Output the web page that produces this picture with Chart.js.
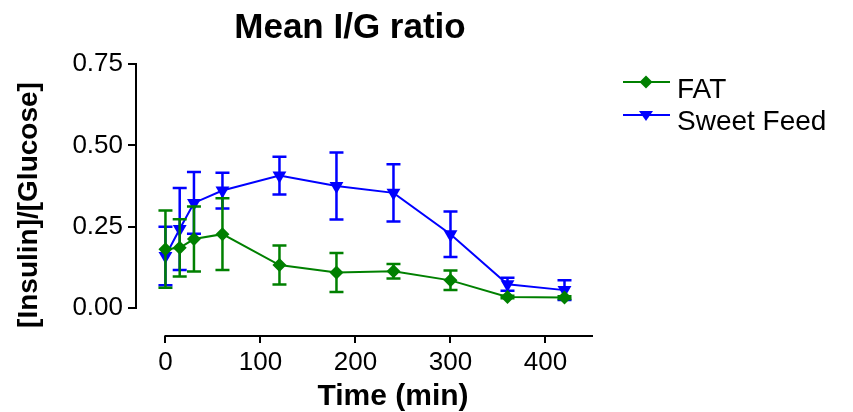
<!DOCTYPE html>
<html>
<head>
<meta charset="utf-8">
<script src="https://cdn.jsdelivr.net/npm/chart.js@4/dist/chart.umd.min.js"></script>
<style>
  html, body { margin: 0; padding: 0; background: #fff; }
  #wrap { width: 853px; height: 412px; }
</style>
</head>
<body>
<div id="wrap"><canvas id="c" width="853" height="412"></canvas></div>
<script>
const titleText = 'Mean I/G ratio';
const xTitle = 'Time (min)';
const yTitle = '[Insulin]/[Glucose]';
const seriesNames = ['FAT', 'Sweet Feed'];
const timePoints = [0, 15, 30, 60, 120, 180, 240, 300, 360, 420];
const fatMean = [0.181, 0.185, 0.212, 0.227, 0.132, 0.109, 0.113, 0.085, 0.034, 0.032];
const fatSem  = [0.119, 0.088, 0.100, 0.110, 0.060, 0.060, 0.022, 0.030, 0.004, 0.004];
const sweetMean = [0.160, 0.243, 0.323, 0.361, 0.407, 0.375, 0.354, 0.227, 0.073, 0.055];
const sweetSem  = [0.090, 0.126, 0.095, 0.055, 0.058, 0.103, 0.088, 0.070, 0.020, 0.030];
const xTickValues = [0, 100, 200, 300, 400];
const yTickValues = [0, 0.25, 0.5, 0.75];

const GREEN = '#008000';
const BLUE = '#0000ff';
const FONT = "'Liberation Sans', Arial, Helvetica, sans-serif";

function pts(ys) { return timePoints.map((t, i) => ({ x: t, y: ys[i] })); }

const errorBars = {
  id: 'errorBars',
  beforeDatasetDraw(chart, args) {
    const ds = chart.data.datasets[args.index];
    const err = ds.errors;
    if (!err) return;
    const ctx = chart.ctx;
    const xs = chart.scales.x, ys = chart.scales.y;
    ctx.save();
    ctx.strokeStyle = ds.borderColor;
    ctx.lineWidth = 2.5;
    ds.data.forEach((p, i) => {
      const px = xs.getPixelForValue(p.x);
      const top = ys.getPixelForValue(p.y + err[i]);
      const bot = ys.getPixelForValue(p.y - err[i]);
      ctx.beginPath();
      ctx.moveTo(px, top); ctx.lineTo(px, bot);
      ctx.moveTo(px - 7, top); ctx.lineTo(px + 7, top);
      ctx.moveTo(px - 7, bot); ctx.lineTo(px + 7, bot);
      ctx.stroke();
    });
    ctx.restore();
  }
};

function diamond(ctx, x, y, r) {
  ctx.beginPath();
  ctx.moveTo(x, y - r); ctx.lineTo(x + r, y); ctx.lineTo(x, y + r); ctx.lineTo(x - r, y);
  ctx.closePath(); ctx.fill();
}
function triDown(ctx, x, y, r) {
  ctx.beginPath();
  ctx.moveTo(x - r, y - r * 0.7); ctx.lineTo(x + r, y - r * 0.7); ctx.lineTo(x, y + r * 0.7);
  ctx.closePath(); ctx.fill();
}

const decor = {
  id: 'decor',
  afterDraw(chart) {
    const ctx = chart.ctx;
    const xs = chart.scales.x, ys = chart.scales.y;
    ctx.save();
    // axis lines
    ctx.strokeStyle = '#000';
    ctx.lineWidth = 2;
    ctx.beginPath();
    ctx.moveTo(chart.chartArea.left, ys.getPixelForValue(0) + 1);
    ctx.lineTo(chart.chartArea.left, ys.getPixelForValue(0.75) - 1);
    const xAxY = chart.chartArea.bottom;
    ctx.moveTo(xs.getPixelForValue(0) - 1, xAxY);
    ctx.lineTo(xs.getPixelForValue(450), xAxY);
    ctx.stroke();

    // title
    ctx.fillStyle = '#000';
    ctx.textAlign = 'center';
    ctx.textBaseline = 'alphabetic';
    ctx.font = 'bold 35px ' + FONT;
    ctx.fillText(titleText, 350, 38);
    // x title
    ctx.font = 'bold 30px ' + FONT;
    ctx.fillText(xTitle, 393, 405);
    // y title
    ctx.save();
    ctx.translate(37, 205);
    ctx.rotate(-Math.PI / 2);
    ctx.font = 'bold 28px ' + FONT;
    ctx.fillText(yTitle, 0, 0);
    ctx.restore();

    // legend
    const items = chart.data.datasets;
    const ly = [82, 115];
    const by = [98, 130];
    items.forEach((ds, i) => {
      ctx.strokeStyle = ds.borderColor;
      ctx.fillStyle = ds.borderColor;
      ctx.lineWidth = 2;
      ctx.beginPath();
      ctx.moveTo(623, ly[i]); ctx.lineTo(670, ly[i]);
      ctx.stroke();
      if (i === 0) diamond(ctx, 646, ly[i], 6.5);
      else triDown(ctx, 646, ly[i] + 1, 7);
      ctx.fillStyle = '#000';
      ctx.textAlign = 'left';
      ctx.font = '28px ' + FONT;
      ctx.fillText(ds.label, 677, by[i]);
    });
    ctx.restore();
  }
};

new Chart(document.getElementById('c'), {
  type: 'line',
  data: {
    datasets: [
      {
        label: seriesNames[0],
        data: pts(fatMean),
        errors: fatSem,
        borderColor: GREEN,
        backgroundColor: GREEN,
        borderWidth: 2,
        pointStyle: 'rectRot',
        pointRadius: 7,
        pointHoverRadius: 7,
        pointBorderWidth: 0,
        tension: 0,
        clip: false
      },
      {
        label: seriesNames[1],
        data: pts(sweetMean),
        errors: sweetSem,
        borderColor: BLUE,
        backgroundColor: BLUE,
        borderWidth: 2,
        pointStyle: 'triangle',
        pointRotation: 180,
        pointRadius: 8,
        pointHoverRadius: 8,
        pointBorderWidth: 0,
        tension: 0,
        clip: false
      }
    ]
  },
  options: {
    responsive: false,
    animation: false,
    events: [],
    layout: { padding: { top: 64, right: 260, left: 0, bottom: 0 } },
    plugins: {
      legend: { display: false },
      title: { display: false },
      tooltip: { enabled: false }
    },
    scales: {
      x: {
        type: 'linear',
        min: -31,
        max: 450,
        afterBuildTicks(scale) { scale.ticks = xTickValues.map(v => ({ value: v })); },
        afterFit(scale) { scale.height = 76; },
        border: { display: false },
        grid: { display: true, drawOnChartArea: false, drawTicks: true, tickLength: 7, color: '#000', lineWidth: 2 },
        ticks: { color: '#000', font: { family: FONT, size: 26 }, padding: 4, maxRotation: 0, autoSkip: false },
        title: { display: false }
      },
      y: {
        type: 'linear',
        min: -0.086,
        max: 0.75,
        afterBuildTicks(scale) { scale.ticks = yTickValues.map(v => ({ value: v })); },
        afterFit(scale) { scale.width = 136; },
        border: { display: false },
        grid: { display: true, drawOnChartArea: false, drawTicks: true, tickLength: 8, color: '#000', lineWidth: 2 },
        ticks: { color: '#000', font: { family: FONT, size: 26 }, padding: 5, autoSkip: false,
                 callback: v => Number(v).toFixed(2) },
        title: { display: false }
      }
    }
  },
  plugins: [errorBars, decor]
});
</script>
</body>
</html>
